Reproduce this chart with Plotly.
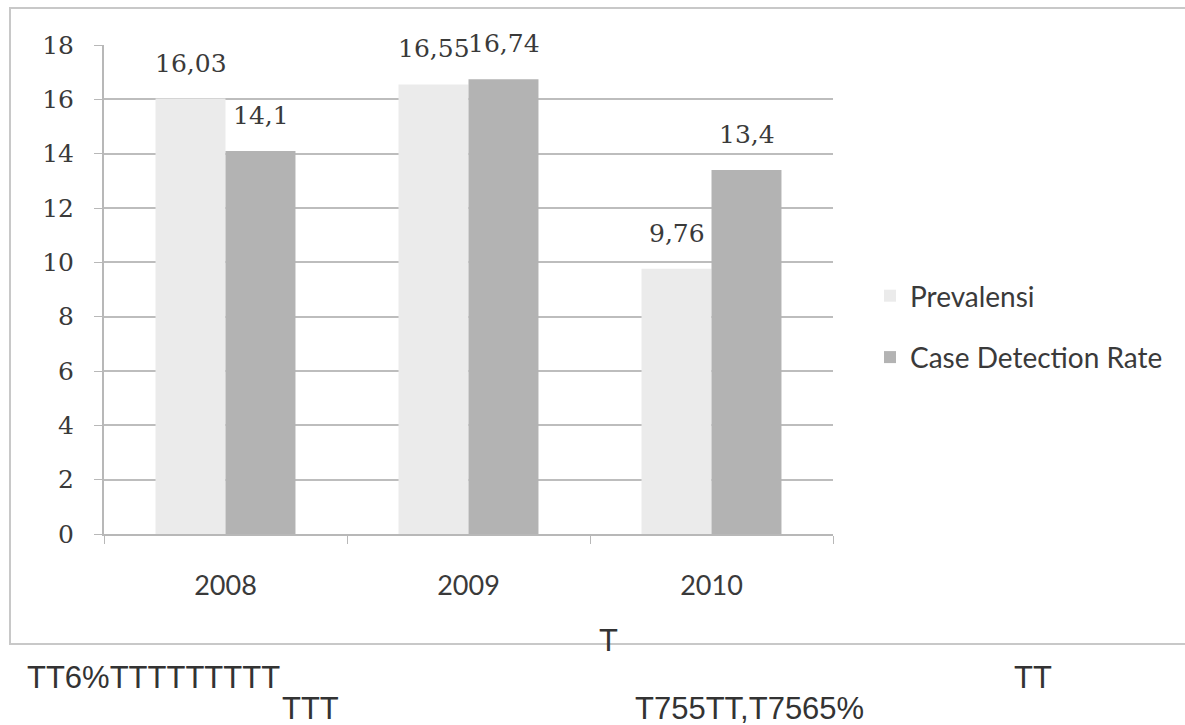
import plotly.graph_objects as go

# Data
years = ["2008", "2009", "2010"]
prevalensi = [16.03, 16.55, 9.76]
case_detection_rate = [14.1, 16.74, 13.4]
series_names = ["Prevalensi", "Case Detection Rate"]
y_ticks = [0, 2, 4, 6, 8, 10, 12, 14, 16, 18]

# Stray text lines printed under the chart frame
footer_texts = ["T", "TT6%TTTTTTTTT", "TT", "TTT", "T755TT,T7565%"]

# Canvas / plot-area geometry (pixels)
W, H = 1185, 725
PL, PR, PT, PB = 104, 833, 45, 534


def px_x(x):
    return (x - PL) / (PR - PL)


def px_y(y):
    return (PB - y) / (PB - PT)


def fmt(v):
    return f"{v:g}".replace(".", ",")


colors = ["#ebebeb", "#b3b3b3"]
serif = "DejaVu Serif"
sans = "Lato"
text_col = "#3a3a3a"

fig = go.Figure()
for name, vals, col in zip(series_names, [prevalensi, case_detection_rate], colors):
    fig.add_trace(go.Bar(
        x=years, y=vals, name=name, legendgroup=name,
        marker=dict(color=col, line=dict(width=0)),
    ))

# Value labels above each bar (x given as category index)
annotations = []
for k, vals in enumerate([prevalensi, case_detection_rate]):
    for j, v in enumerate(vals):
        annotations.append(dict(
            x=j, y=v, xref="x", yref="y", text=fmt(v), showarrow=False,
            xshift=-35 if k == 0 else 35, yshift=19, yanchor="bottom",
            font=dict(family=serif, size=25, color=text_col),
        ))

# Footer text lines (pixel positions -> paper coordinates)
footer_pos = [(608, 640, "center"), (25, 677, "left"), (1012, 677, "left"),
              (280, 708, "left"), (633, 708, "left")]
for t, (fx, fy, anc) in zip(footer_texts, footer_pos):
    annotations.append(dict(
        x=px_x(fx), y=px_y(fy), xref="paper", yref="paper", text=t,
        showarrow=False, xanchor=anc, yanchor="middle",
        font=dict(family="Liberation Sans", size=31, color="#333333"),
    ))

fig.update_layout(
    width=W, height=H,
    margin=dict(l=PL, r=W - PR, t=PT, b=H - PB, pad=0),
    paper_bgcolor="white", plot_bgcolor="white",
    barmode="group", bargap=0.424, bargroupgap=0,
    showlegend=True,
    legend=dict(
        x=px_x(870), y=px_y(271), xanchor="left", yanchor="top",
        font=dict(family=sans, size=28, color=text_col),
        tracegroupgap=22, itemwidth=30, bgcolor="rgba(0,0,0,0)",
    ),
    annotations=annotations,
    shapes=[dict(
        type="rect", xref="paper", yref="paper",
        x0=px_x(10), x1=px_x(1195), y0=px_y(644), y1=px_y(8),
        line=dict(color="#c8c8c8", width=2), fillcolor="rgba(0,0,0,0)",
        layer="below",
    )],
)

fig.update_xaxes(
    type="category", range=[-0.5, len(years) - 0.5], autorange=False,
    showgrid=False, showline=True, linecolor="#b8b8b8", linewidth=2,
    ticks="outside", tickson="boundaries", ticklen=8, tickcolor="#b8b8b8",
    tickangle=0,
    tickfont=dict(family=sans, size=27, color=text_col), ticklabelstandoff=27,
)
fig.update_yaxes(
    range=[0, 18], tickvals=y_ticks, showgrid=True, gridcolor="#bdbdbd", gridwidth=2,
    showline=True, linecolor="#b8b8b8", linewidth=2, zeroline=False,
    ticks="outside", ticklen=8, tickcolor="#b8b8b8",
    tickfont=dict(family=serif, size=25, color=text_col), ticklabelstandoff=15,
)

fig.write_html("out.html")
